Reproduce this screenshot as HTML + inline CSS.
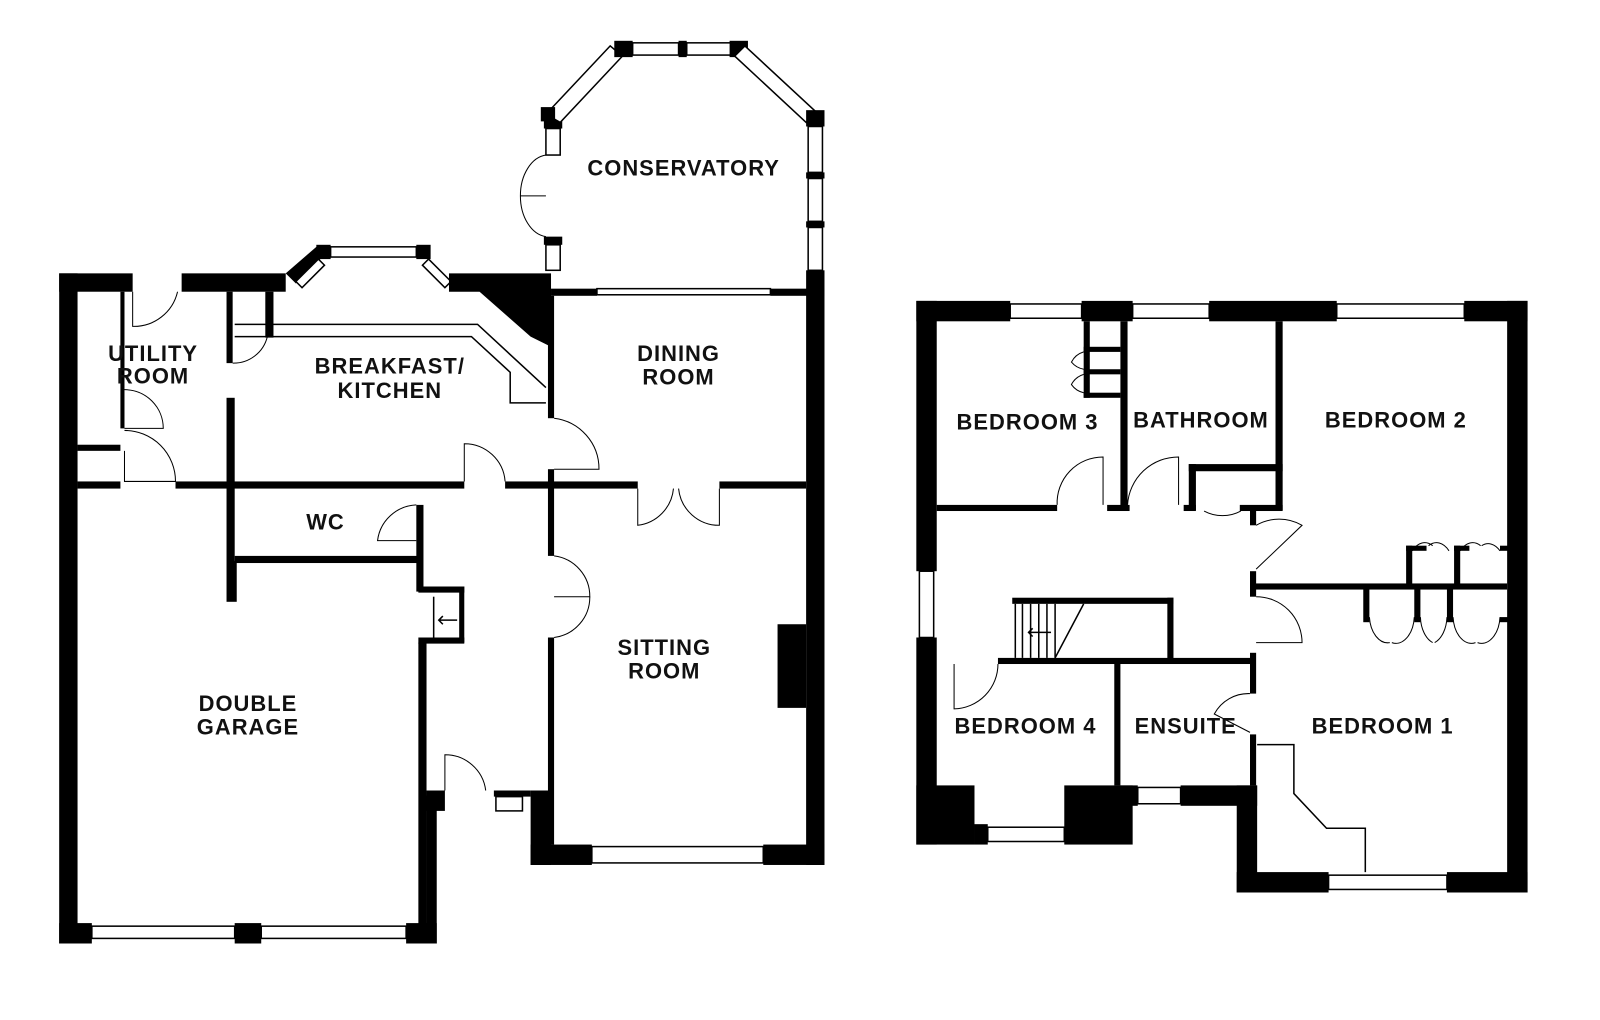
<!DOCTYPE html>
<html><head><meta charset="utf-8"><style>
html,body{margin:0;padding:0;background:#fff;width:1600px;height:1020px;overflow:hidden}
svg{display:block}
text{font-family:"Liberation Sans",sans-serif;font-weight:bold;font-size:21.5px;fill:#111;text-anchor:middle;letter-spacing:1px}
.w{fill:#000}
.win{fill:#fff;stroke:#000;stroke-width:1.5}
.d{fill:none;stroke:#000;stroke-width:1}
.t{fill:none;stroke:#000;stroke-width:1.5}
</style></head><body>
<svg width="1600" height="1020" viewBox="0 0 1568 1000" preserveAspectRatio="none">
<!-- ================= GROUND FLOOR ================= -->
<rect class="w" x="58" y="268" width="18" height="657"/>
<rect class="w" x="58" y="268" width="72" height="18"/>
<rect class="w" x="178" y="268" width="102" height="18"/>
<polygon class="w" points="280,268 310,242 318,250 290,278"/>
<rect class="w" x="310" y="240" width="14" height="14"/>
<rect class="win" x="324" y="242" width="84" height="10"/>
<rect class="w" x="408" y="240" width="14" height="14"/>
<polygon class="win" points="290,276 312,254 318,260 296,282"/>
<polygon class="win" points="420,254 442,276 436,282 414,260"/>
<polygon class="w" points="440,268 540,268 540,340 520,330 470,286 440,286"/>
<polyline class="t" points="230,330 462,330 500,365 500,395 535,395"/>
<polyline class="t" points="230,318 468,318 535,380"/>
<rect class="w" x="540" y="283" width="45" height="7"/>
<rect class="win" x="585" y="283" width="170" height="6"/>
<rect class="w" x="755" y="283" width="53" height="7"/>
<!-- conservatory -->
<rect class="w" x="533" y="112" width="18" height="14"/>
<rect class="win" x="535" y="126" width="14" height="26"/>
<rect class="w" x="533" y="232" width="18" height="8"/>
<rect class="win" x="535" y="240" width="14" height="25"/>
<polygon class="win" points="535,112 598,45 610,55 549,120"/>
<rect class="w" x="530" y="105" width="14" height="14"/>
<rect class="w" x="602" y="40" width="18" height="16"/>
<rect class="win" x="620" y="42" width="45" height="12"/>
<rect class="w" x="665" y="40" width="8" height="16"/>
<rect class="win" x="673" y="42" width="45" height="12"/>
<rect class="w" x="715" y="40" width="18" height="16"/>
<polygon class="win" points="730,45 800,110 790,120 720,55"/>
<rect class="w" x="790" y="108" width="18" height="16"/>
<rect class="win" x="792" y="124" width="14" height="45"/>
<rect class="w" x="790" y="169" width="18" height="6"/>
<rect class="win" x="792" y="175" width="14" height="42"/>
<rect class="w" x="790" y="217" width="18" height="6"/>
<rect class="win" x="792" y="223" width="14" height="42"/>
<path class="d" d="M535,152 A28,40 0 0,0 510,192 L535,192 M535,232 A28,40 0 0,1 510,192"/>
<rect class="w" x="790" y="265" width="18" height="583"/>
<rect class="w" x="762" y="612" width="28" height="82"/>
<rect class="w" x="520" y="775" width="20" height="73"/>
<rect class="w" x="520" y="828" width="60" height="20"/>
<rect class="win" x="580" y="830" width="168" height="16"/>
<rect class="w" x="748" y="828" width="60" height="20"/>
<rect class="w" x="418" y="775" width="18" height="20"/>
<rect class="w" x="484" y="775" width="36" height="6"/>
<rect class="win" x="486" y="781" width="26" height="14"/>
<rect class="w" x="58" y="905" width="32" height="20"/>
<rect class="win" x="90" y="908" width="140" height="12"/>
<rect class="w" x="230" y="905" width="26" height="20"/>
<rect class="win" x="256" y="908" width="142" height="12"/>
<rect class="w" x="398" y="905" width="30" height="20"/>
<rect class="w" x="410" y="630" width="8" height="295"/>
<rect class="w" x="418" y="780" width="10" height="145"/>
<rect class="w" x="222" y="550" width="10" height="40"/>
<rect class="w" x="76" y="436" width="42" height="6"/>
<rect class="w" x="76" y="472" width="42" height="7"/>
<rect class="w" x="172" y="472" width="283" height="7"/>
<rect class="w" x="495" y="472" width="130" height="7"/>
<rect class="w" x="705" y="472" width="85" height="7"/>
<rect class="w" x="118" y="286" width="4" height="134"/>
<rect class="w" x="222" y="286" width="6" height="70"/>
<rect class="w" x="222" y="390" width="8" height="160"/>
<rect class="w" x="260" y="286" width="8" height="45"/>
<rect class="w" x="230" y="545" width="180" height="7"/>
<rect class="w" x="408" y="495" width="7" height="85"/>
<rect class="w" x="410" y="575" width="45" height="6"/>
<rect class="w" x="450" y="575" width="5" height="55"/>
<rect class="w" x="410" y="625" width="45" height="6"/>
<rect class="w" x="537" y="290" width="6" height="120"/>
<rect class="w" x="537" y="460" width="6" height="85"/>
<rect class="w" x="537" y="625" width="6" height="203"/>
<path class="d" d="M130,286 L130,320 A44,44 0 0,0 174,286"/>
<path class="d" d="M122,420 L160,420 A38,38 0 0,0 122,382"/>
<path class="d" d="M122,442 L122,472 L172,472 A50,50 0 0,0 122,422"/>
<path class="d" d="M543,410 A50,50 0 0,1 587,460 L543,460"/>
<path class="d" d="M455,472 L455,435 A40,40 0 0,1 495,472"/>
<path class="d" d="M625,479 L625,515 A40,40 0 0,0 660,479"/>
<path class="d" d="M705,479 L705,515 A40,40 0 0,1 665,479"/>
<path class="d" d="M408,495 A40,40 0 0,0 370,530 L408,530"/>
<path class="d" d="M543,545 A40,40 0 0,1 578,585 L543,585"/>
<path class="d" d="M543,625 A40,40 0 0,0 578,585"/>
<path class="d" d="M436,775 L436,740 A40,40 0 0,1 476,775"/>
<path class="d" d="M228,356 A34,34 0 0,0 262,330"/>
<polyline class="t" points="425,585 425,628"/>
<path class="t" d="M430,608 L448,608 M434,604 L430,608 L434,612"/>
<text x="150" y="354">UTILITY</text><text x="150" y="376">ROOM</text>
<text x="382" y="366">BREAKFAST/</text><text x="382" y="390">KITCHEN</text>
<text x="665" y="354">DINING</text><text x="665" y="377">ROOM</text>
<text x="670" y="172">CONSERVATORY</text>
<text x="319" y="519">WC</text>
<text x="651" y="642">SITTING</text><text x="651" y="665">ROOM</text>
<text x="243" y="697">DOUBLE</text><text x="243" y="720">GARAGE</text>

<!-- ================= FIRST FLOOR ================= -->
<rect class="w" x="898" y="295" width="92" height="20"/>
<rect class="win" x="990" y="298" width="70" height="14"/>
<rect class="w" x="1060" y="295" width="50" height="20"/>
<rect class="win" x="1110" y="298" width="75" height="14"/>
<rect class="w" x="1185" y="295" width="125" height="20"/>
<rect class="win" x="1310" y="298" width="125" height="14"/>
<rect class="w" x="1435" y="295" width="62" height="20"/>
<rect class="w" x="898" y="295" width="20" height="265"/>
<rect class="win" x="901" y="560" width="14" height="65"/>
<rect class="w" x="898" y="625" width="20" height="203"/>
<rect class="w" x="1477" y="295" width="20" height="580"/>
<rect class="w" x="898" y="770" width="57" height="58"/>
<rect class="w" x="955" y="808" width="13" height="20"/>
<rect class="win" x="968" y="811" width="75" height="14"/>
<rect class="w" x="1043" y="770" width="67" height="58"/>
<rect class="w" x="1095" y="770" width="20" height="20"/>
<rect class="win" x="1115" y="772" width="42" height="16"/>
<rect class="w" x="1157" y="770" width="75" height="20"/>
<rect class="w" x="1212" y="770" width="20" height="105"/>
<rect class="w" x="1212" y="855" width="90" height="20"/>
<rect class="win" x="1302" y="858" width="116" height="14"/>
<rect class="w" x="1418" y="855" width="79" height="20"/>
<rect class="w" x="918" y="495" width="118" height="6"/>
<rect class="w" x="1085" y="495" width="22" height="6"/>
<rect class="w" x="1098" y="315" width="7" height="185"/>
<rect class="w" x="1062" y="315" width="6" height="75"/>
<rect class="w" x="1062" y="340" width="36" height="5"/>
<rect class="w" x="1062" y="362" width="36" height="5"/>
<rect class="w" x="1062" y="385" width="36" height="5"/>
<rect class="w" x="1250" y="315" width="7" height="185"/>
<rect class="w" x="1165" y="455" width="92" height="7"/>
<rect class="w" x="1165" y="455" width="7" height="45"/>
<rect class="w" x="1160" y="495" width="12" height="6"/>
<rect class="w" x="1215" y="495" width="42" height="6"/>
<rect class="w" x="1225" y="500" width="6" height="15"/>
<rect class="w" x="1225" y="560" width="6" height="25"/>
<rect class="w" x="1230" y="572" width="247" height="6"/>
<rect class="w" x="1378" y="535" width="6" height="40"/>
<rect class="w" x="1378" y="535" width="20" height="5"/>
<rect class="w" x="1425" y="535" width="6" height="40"/>
<rect class="w" x="1425" y="535" width="15" height="5"/>
<rect class="w" x="1470" y="535" width="8" height="5"/>
<rect class="w" x="1336" y="575" width="6" height="35"/>
<rect class="w" x="1386" y="575" width="6" height="35"/>
<rect class="w" x="1418" y="575" width="6" height="35"/>
<rect class="w" x="1470" y="605" width="8" height="5"/>
<rect class="w" x="992" y="586" width="158" height="6"/>
<rect class="w" x="1144" y="586" width="6" height="62"/>
<rect class="w" x="978" y="645" width="252" height="6"/>
<rect class="w" x="1092" y="648" width="6" height="122"/>
<rect class="w" x="1225" y="640" width="6" height="40"/>
<rect class="w" x="1225" y="720" width="6" height="50"/>
<g class="t"><line x1="995" y1="592" x2="995" y2="645"/>
<line x1="1002" y1="592" x2="1002" y2="645"/><line x1="1010" y1="592" x2="1010" y2="645"/>
<line x1="1018" y1="592" x2="1018" y2="645"/><line x1="1026" y1="592" x2="1026" y2="645"/>
<line x1="1034" y1="592" x2="1034" y2="645"/><line x1="1034" y1="645" x2="1062" y2="592"/>
<path d="M1008,620 L1030,620 M1012,616 L1008,620 L1012,624"/></g>
<polyline class="t" points="1232,730 1268,730 1268,778 1300,812 1338,812 1338,855"/>
<path class="d" d="M1036,495 A45,45 0 0,1 1081,448 L1081,495"/>
<path class="d" d="M1105,495 A50,50 0 0,1 1155,448 L1155,495"/>
<path class="d" d="M1216,501 A38,38 0 0,1 1180,501"/>
<path class="d" d="M1231,515 A45,45 0 0,1 1276,515 L1231,558"/>
<path class="d" d="M1231,585 A45,45 0 0,1 1276,630 L1231,630"/>
<path class="d" d="M935,651 L935,695 A44,44 0 0,0 978,651"/>
<path class="d" d="M1225,680 A38,38 0 0,0 1190,700 L1225,718"/>
<path class="d" d="M1062,345 A20,20 0 0,0 1050,355 A20,20 0 0,0 1062,362"/>
<path class="d" d="M1062,367 A20,20 0 0,0 1050,377 A20,20 0 0,0 1062,385"/>
<path class="d" d="M1384,540 A18,30 0 0,1 1404,535 M1420,540 A18,30 0 0,0 1400,535"/>
<path class="d" d="M1431,540 A18,30 0 0,1 1451,535 M1470,540 A18,30 0 0,0 1452,535"/>
<path class="d" d="M1342,605 A18,28 0 0,0 1362,630 M1386,605 A18,28 0 0,1 1364,630"/>
<path class="d" d="M1392,605 A18,28 0 0,0 1404,630 M1418,605 A18,28 0 0,1 1406,630"/>
<path class="d" d="M1424,605 A18,28 0 0,0 1446,630 M1470,605 A18,28 0 0,1 1448,630"/>
<text x="1007" y="421">BEDROOM 3</text>
<text x="1177" y="419">BATHROOM</text>
<text x="1368" y="419">BEDROOM 2</text>
<text x="1005" y="719">BEDROOM 4</text>
<text x="1162" y="719">ENSUITE</text>
<text x="1355" y="719">BEDROOM 1</text>
</svg>
</body></html>
